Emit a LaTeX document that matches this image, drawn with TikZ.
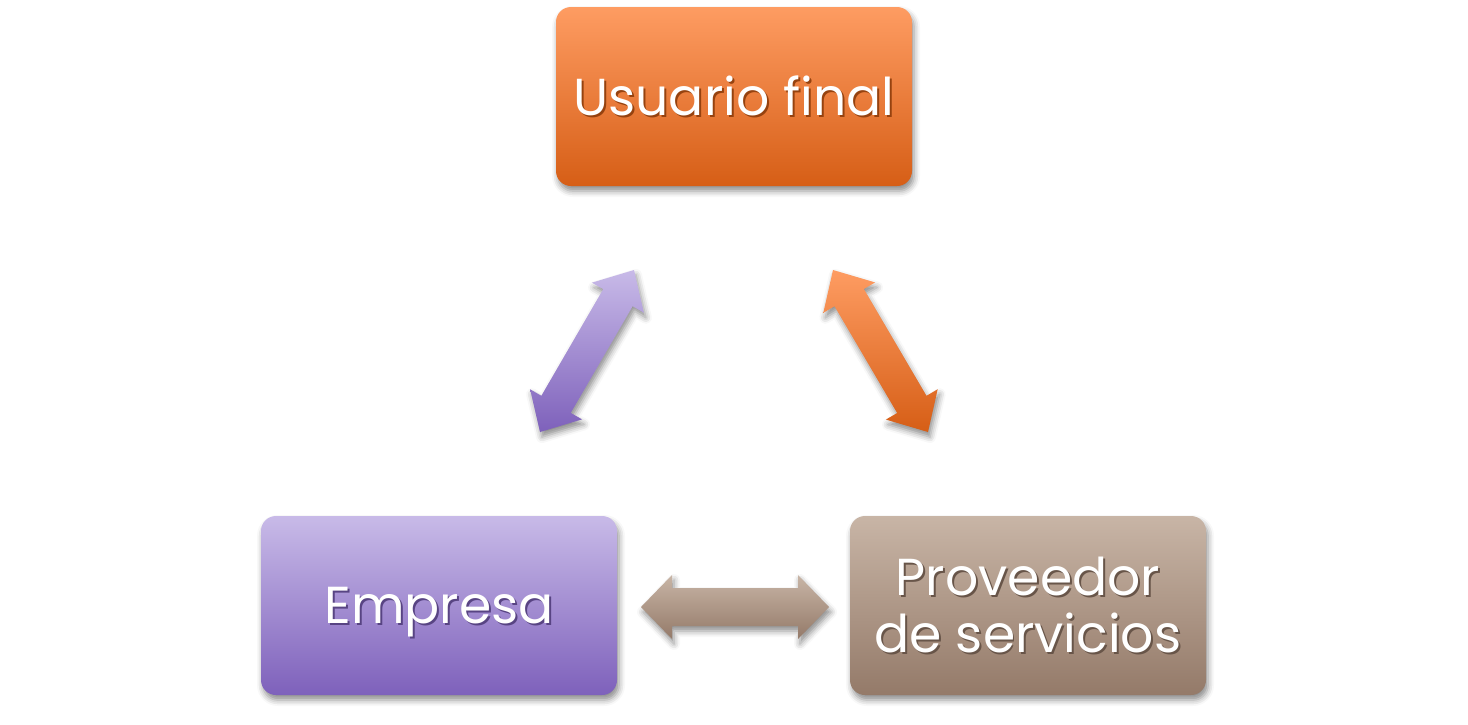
\documentclass[tikz,border=0pt]{standalone}
\usepackage{fontspec}
\setmainfont{Poppins}
\usetikzlibrary{calc,shadows,shadows.blur}
\definecolor{orTop}{RGB}{254,156,98}
\definecolor{orBot}{RGB}{214,94,22}
\definecolor{puTop}{RGB}{200,186,232}
\definecolor{puBot}{RGB}{126,97,187}
\definecolor{brTop}{RGB}{200,181,166}
\definecolor{brBot}{RGB}{148,122,105}
\newcommand\shtext[2]{\makebox[0pt][l]{\kern2pt\raisebox{-2pt}{\textcolor{#1}{#2}}}#2}
% #1 from, #2 to, #3 head length, #4 head half width, #5 shaft half width, #6 style
\newcommand\dblarrow[6]{%
  \path[#6] (#1)
   -- ($(#1)!#3!(#2)!#4!90:(#2)$)
   -- ($(#1)!#3!(#2)!#5!90:(#2)$)
   -- ($(#2)!#3!(#1)!#5!-90:(#1)$)
   -- ($(#2)!#3!(#1)!#4!-90:(#1)$)
   -- (#2)
   -- ($(#2)!#3!(#1)!#4!90:(#1)$)
   -- ($(#2)!#3!(#1)!#5!90:(#1)$)
   -- ($(#1)!#3!(#2)!#5!-90:(#2)$)
   -- ($(#1)!#3!(#2)!#4!-90:(#2)$)
   -- cycle;}
\tikzset{
  soft/.style={blur shadow={shadow xshift=2pt, shadow yshift=-5pt, shadow blur radius=6pt, shadow opacity=45}},
  box/.style={soft, rounded corners=15pt, minimum width=356pt, minimum height=179pt,
    inner sep=0pt, text=white, align=center, font=\fontsize{52}{57}\selectfont},
  orangebox/.style={box, top color=orTop, bottom color=orBot},
  purplebox/.style={box, top color=puTop, bottom color=puBot},
  brownbox/.style={box, top color=brTop, bottom color=brBot},
  orangearrow/.style={soft, top color=orTop, bottom color=orBot},
  purplearrow/.style={soft, top color=puTop, bottom color=puBot},
  brownarrow/.style={soft, top color=brTop, bottom color=brBot},
}
\begin{document}
\begin{tikzpicture}[x=1pt,y=-1pt]
  \useasboundingbox (0,0) rectangle (1468,724);
  \node[orangebox] (usuario) at (734,96.5) {\shtext{orBot!70!black}{Usuario final}};
  \node[purplebox] (empresa) at (439,605.5) {\raisebox{0pt}[\height][0pt]{\shtext{puBot!70!black}{Empresa}}};
  \node[brownbox] (proveedor) at (1028,605.5) {\shtext{brBot!70!black}{Proveedor}\\\shtext{brBot!70!black}{de servicios}};
  \coordinate (pA) at (540,432);
  \coordinate (pB) at (634,270);
  \coordinate (oA) at (833,270);
  \coordinate (oB) at (928,432);
  \coordinate (bA) at (641,607);
  \coordinate (bB) at (829,607);
  \dblarrow{pA}{pB}{32pt}{30pt}{17pt}{purplearrow}
  \dblarrow{oA}{oB}{32pt}{30pt}{17pt}{orangearrow}
  \dblarrow{bA}{bB}{31pt}{32pt}{19pt}{brownarrow}
\end{tikzpicture}
\end{document}
